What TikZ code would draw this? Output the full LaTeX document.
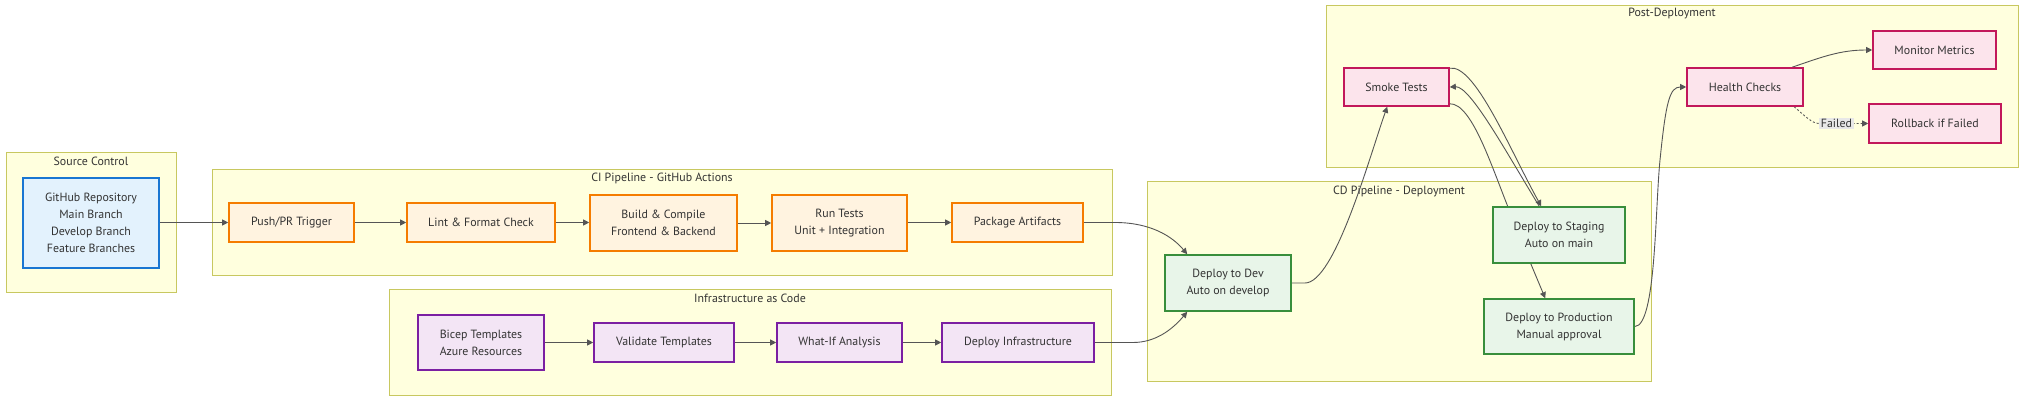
\documentclass[tikz,border=0pt]{standalone}
\usepackage{fontspec}
\setmainfont{PT Sans}
\usetikzlibrary{arrows.meta}
\definecolor{clfill}{HTML}{FFFFDE}
\definecolor{clline}{HTML}{C8C860}
\definecolor{txt}{HTML}{333333}
\definecolor{edgec}{HTML}{555555}
\definecolor{ghfill}{HTML}{E3F2FD}\definecolor{ghline}{HTML}{1976D2}
\definecolor{cifill}{HTML}{FFF3E0}\definecolor{ciline}{HTML}{F57C00}
\definecolor{iafill}{HTML}{F3E5F5}\definecolor{ialine}{HTML}{7B1FA2}
\definecolor{cdfill}{HTML}{E8F5E9}\definecolor{cdline}{HTML}{388E3C}
\definecolor{pdfill}{HTML}{FCE4EC}\definecolor{pdline}{HTML}{C2185B}
\definecolor{lblbg}{HTML}{E8E8E8}
\pgfdeclarelayer{bg}
\pgfdeclarelayer{edges}
\pgfsetlayers{bg,edges,main}
\tikzset{
  box/.style={draw, line width=1.6pt, inner sep=0pt, align=center, text=txt,
    font=\fontsize{11.9}{17}\selectfont},
  gh/.style={box, fill=ghfill, draw=ghline},
  ci/.style={box, fill=cifill, draw=ciline},
  ia/.style={box, fill=iafill, draw=ialine},
  cd/.style={box, fill=cdfill, draw=cdline},
  pd/.style={box, fill=pdfill, draw=pdline},
  cluster/.style={draw=clline, fill=clfill, line width=1pt},
  cltitle/.style={text=txt, inner sep=0pt, font=\fontsize{11.9}{13}\selectfont},
  edge/.style={draw=edgec, line width=0.9pt, -{Triangle[length=6pt,width=6pt]}},
  dotedge/.style={edge, dash pattern=on 2pt off 2pt},
  elabel/.style={fill=lblbg, text=txt, inner sep=1.5pt, font=\fontsize{11.9}{13}\selectfont},
}
\begin{document}
\begin{tikzpicture}[x=1pt,y=-1pt]
\useasboundingbox (0,0) rectangle (2032,403);
% clusters
\begin{pgfonlayer}{bg}
\fill[white] (0,0) rectangle (2032,403);
\draw[cluster] (6,153) rectangle (176,293);
\node[cltitle] (tsrc) at (91,161) {Source Control};
\draw[cluster] (212,170) rectangle (1112,276);
\node[cltitle] (tci) at (662,178) {CI Pipeline - GitHub Actions};
\draw[cluster] (389,290) rectangle (1111,395);
\node[cltitle] (tia) at (750,298) {Infrastructure as Code};
\draw[cluster] (1147,182) rectangle (1651,381);
\node[cltitle] (tcd) at (1399,191) {CD Pipeline - Deployment};
\draw[cluster] (1326,6) rectangle (2018,168);
\node[cltitle] (tpd) at (1672,14) {Post-Deployment};
\end{pgfonlayer}
% nodes
\node[gh, minimum width=136pt, minimum height=90pt] (gh) at (91,223)
  {GitHub Repository\\Main Branch\\Develop Branch\\Feature Branches};
\node[ci, minimum width=125pt, minimum height=39pt] (push) at (291.5,222.5) {Push/PR Trigger};
\node[ci, minimum width=148pt, minimum height=39pt] (lint) at (481,222.5) {Lint \& Format Check};
\node[ci, minimum width=147pt, minimum height=56pt] (build) at (663.5,223) {Build \& Compile\\Frontend \& Backend};
\node[ci, minimum width=135pt, minimum height=56pt] (test) at (839.5,223) {Run Tests\\Unit + Integration};
\node[ci, minimum width=131pt, minimum height=39pt] (pkg) at (1017.5,222.5) {Package Artifacts};
\node[ia, minimum width=126pt, minimum height=55pt] (bicep) at (481,342.5) {Bicep Templates\\Azure Resources};
\node[ia, minimum width=140pt, minimum height=39pt] (valid) at (664,342.5) {Validate Templates};
\node[ia, minimum width=125pt, minimum height=39pt] (whatif) at (839.5,342.5) {What-If Analysis};
\node[ia, minimum width=152pt, minimum height=39pt] (infra) at (1018,342.5) {Deploy Infrastructure};
\node[cd, minimum width=126pt, minimum height=56pt] (dev) at (1228,283) {Deploy to Dev\\Auto on develop};
\node[cd, minimum width=132pt, minimum height=56pt] (staging) at (1559,235) {Deploy to Staging\\Auto on main};
\node[cd, minimum width=150pt, minimum height=55pt] (prod) at (1559,326.5) {Deploy to Production\\Manual approval};
\node[pd, minimum width=105pt, minimum height=38pt] (smoke) at (1396.5,87) {Smoke Tests};
\node[pd, minimum width=116pt, minimum height=38pt] (health) at (1745,87) {Health Checks};
\node[pd, minimum width=123pt, minimum height=38pt] (monitor) at (1934.5,50) {Monitor Metrics};
\node[pd, minimum width=132pt, minimum height=39pt] (rollback) at (1935,123.5) {Rollback if Failed};
\node[elabel] (failed) at (1836.5,123.5) {Failed};
% edges
\begin{pgfonlayer}{edges}
\draw[edge] (gh.east |- push.west) -- (push.west);
\draw[edge] (push.east) -- (lint.west);
\draw[edge] (lint.east) -- (lint.east -| build.west);
\draw[edge] (build.east) -- (test.west);
\draw[edge] (test.east |- pkg.west) -- (pkg.west);
\draw[edge] (pkg.east) -- (1115,222.5) .. controls (1150,222.5) and (1172,236) .. ([xshift=23pt]dev.north west);
\draw[edge] (bicep.east) -- (valid.west);
\draw[edge] (valid.east) -- (whatif.west);
\draw[edge] (whatif.east) -- (infra.west);
\draw[edge] (infra.east) -- (1133,342.5) .. controls (1155,342.5) and (1172,330) .. ([xshift=23pt]dev.south west);
\draw[edge] (dev.east) -- (1305,283) .. controls (1335,283) and (1370,155) .. ([xshift=44pt]smoke.south west);
\draw[edge] ([yshift=-1pt]smoke.north east) .. controls (1475,64) and (1510,150) .. ([xshift=49pt]staging.north west);
\draw[edge] ([xshift=47pt]staging.north west) .. controls (1505,150) and (1470,86) .. (smoke.east);
\draw[edge] ([yshift=3pt]smoke.south east) .. controls (1472,103) and (1492,168) .. (1510,212) .. controls (1525,250) .. ([xshift=62pt]prod.north west);
\draw[edge] (prod.east) .. controls (1656,326) and (1655,210) .. (1660,160) .. controls (1666,100) and (1670,87) .. (health.west);
\draw[edge] ([xshift=106pt]health.north west) .. controls (1822,57) and (1840,50) .. (monitor.west);
\draw[dotedge] ([xshift=108pt]health.south west) .. controls (1805,116) and (1812,123.5) .. (failed.west) -- (failed.east) -- (rollback.west);
\end{pgfonlayer}
\end{tikzpicture}
\end{document}
